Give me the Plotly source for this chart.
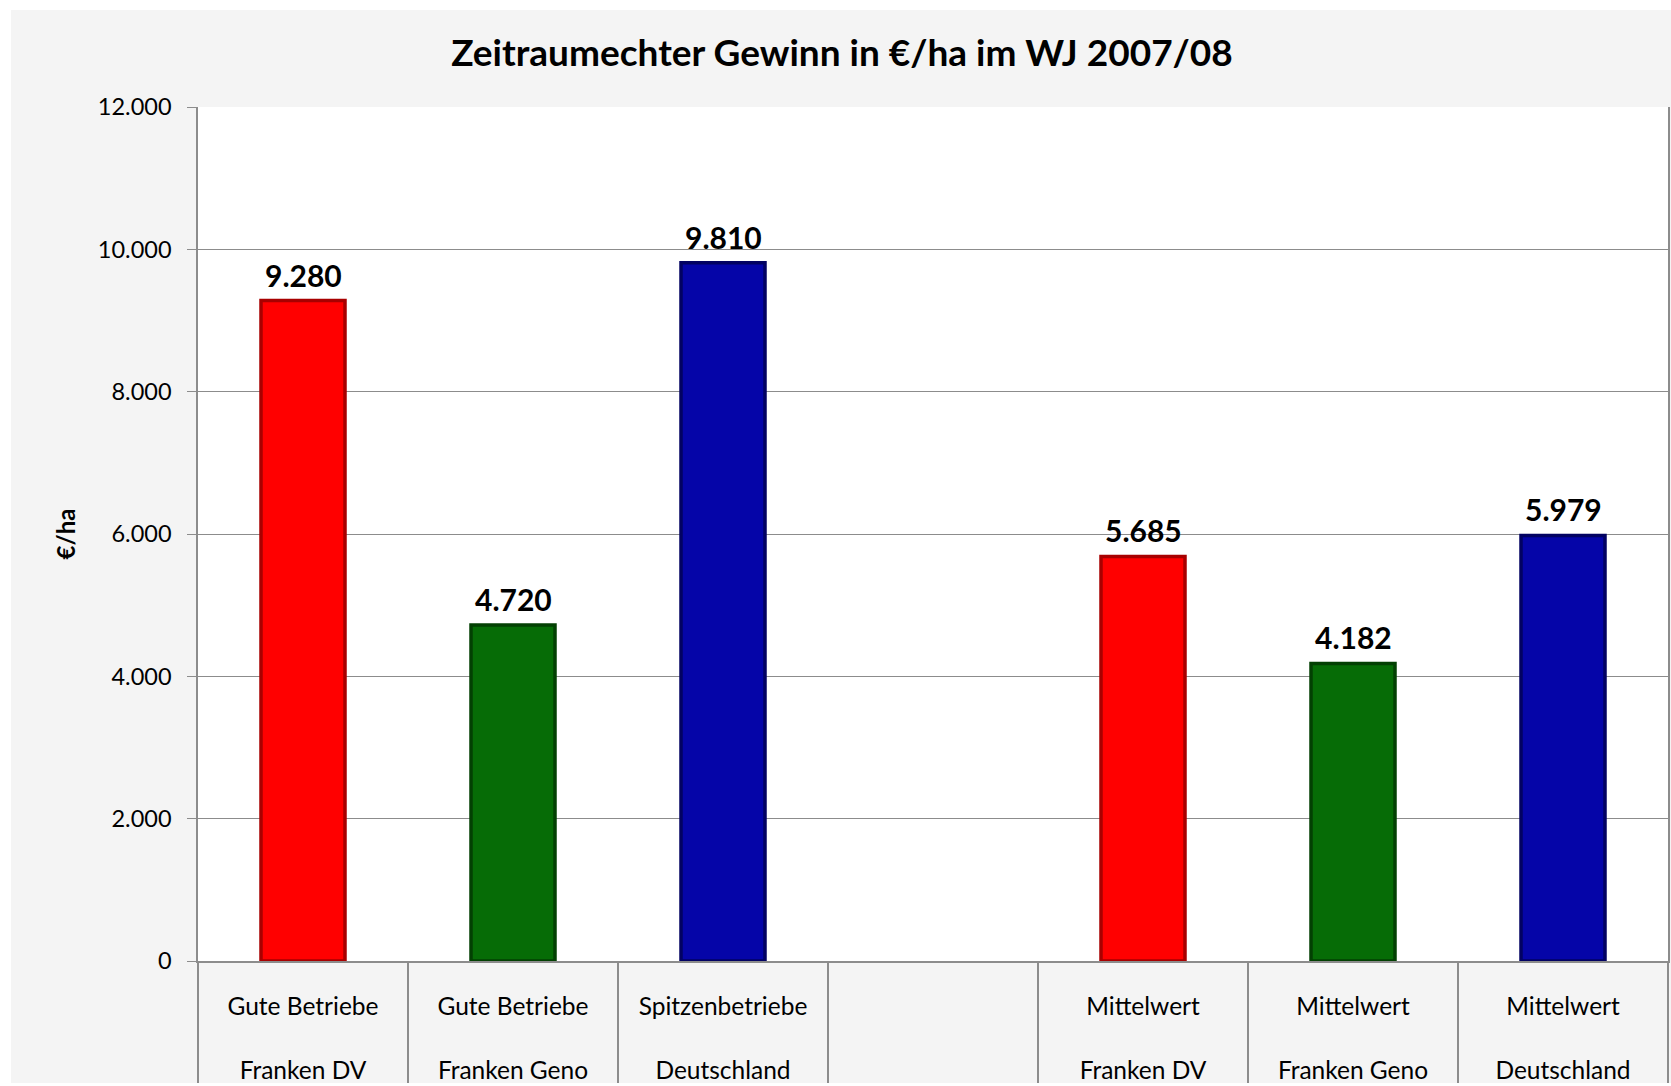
import plotly.graph_objects as go

# ---- data ----
line1 = ["Gute Betriebe", "Gute Betriebe", "Spitzenbetriebe", "", "Mittelwert", "Mittelwert", "Mittelwert"]
line2 = ["Franken DV", "Franken Geno", "Deutschland", "", "Franken DV", "Franken Geno", "Deutschland"]
values = [9280, 4720, 9810, None, 5685, 4182, 5979]
bar_colors = ["#FF0000", "#066C06", "#0505A8", "#FFFFFF", "#FF0000", "#066C06", "#0505A8"]
edge_colors = ["#A80000", "#034003", "#020262", "#FFFFFF", "#A80000", "#034003", "#020262"]
y_ticks = [0, 2000, 4000, 6000, 8000, 10000, 12000]

cats = [f"{a}<br><br>{b}" if a else " " for a, b in zip(line1, line2)]

FONT = "Lato"
W, H = 1671, 1086
L, R, T, B = 198, 3, 107, 125

fig = go.Figure()
fig.add_trace(go.Bar(
    x=cats, y=values,
    marker=dict(color=bar_colors, line=dict(color=edge_colors, width=3.5)),
    hoverinfo="skip",
))

labels = []
for c, v in zip(cats, values):
    if v is None:
        continue
    labels.append(dict(
        x=c, y=v, xref="x", yref="y", yanchor="bottom", yshift=6,
        text=f"<b>{v:,}</b>".replace(",", "."), showarrow=False,
        font=dict(family=FONT, size=30, color="#000000"),
    ))

pw, ph = W - L - R, H - T - B
def px_x(p):
    return (p - L) / pw
def px_y(p):
    return (H - B - p) / ph

# white outer frame strips (left, top, bottom)
for x0, x1, y0, y1 in [(-5, 11, -5, H + 5), (-5, W + 5, -5, 10), (-5, W + 5, 1083, H + 5)]:
    fig.add_shape(type="rect", xref="paper", yref="paper", layer="above",
                  x0=px_x(x0), x1=px_x(x1), y0=px_y(y1), y1=px_y(y0),
                  fillcolor="#FFFFFF", line=dict(width=0))

fig.update_layout(
    width=W, height=H,
    margin=dict(l=L, r=R, t=T, b=B, autoexpand=False),
    paper_bgcolor="#F4F4F4",
    plot_bgcolor="#FFFFFF",
    separators=",.",
    bargap=0.6,
    showlegend=False,
    annotations=labels,
    font=dict(family=FONT, color="#000000"),
    title=dict(text="<b>Zeitraumechter Gewinn in €/ha im WJ 2007/08</b>",
               x=842 / W, xanchor="center", xref="container",
               y=1 - 53 / H, yanchor="middle", yref="container",
               font=dict(family=FONT, size=37, color="#000000")),
    xaxis=dict(
        type="category", categoryorder="array", categoryarray=cats,
        showgrid=False, showline=True, linecolor="#8C8C8C", linewidth=2,
        ticks="outside", tickson="boundaries", ticklen=125, tickcolor="#8C8C8C", tickwidth=1.5,
        ticklabelstandoff=23,
        tickfont=dict(family=FONT, size=24.5, color="#000000"),
        automargin=False,
    ),
    yaxis=dict(
        range=[0, 12000], tickvals=y_ticks, tickformat=",d",
        showgrid=True, gridcolor="#8C8C8C", gridwidth=1,
        showline=True, linecolor="#8C8C8C", linewidth=1.5, mirror=True,
        ticks="outside", ticklen=9, tickcolor="#8C8C8C",
        ticklabelstandoff=11,
        tickfont=dict(family=FONT, size=23.5, color="#000000"),
        title=dict(text="<b>€/ha</b>", standoff=15, font=dict(family=FONT, size=24)),
        zeroline=False, automargin=False,
    ),
)

fig.write_html(
    "out.html",
    config={"displayModeBar": False},
    post_script="document.body.style.margin='0';document.documentElement.style.overflow='hidden';document.body.style.overflow='hidden';",
)
